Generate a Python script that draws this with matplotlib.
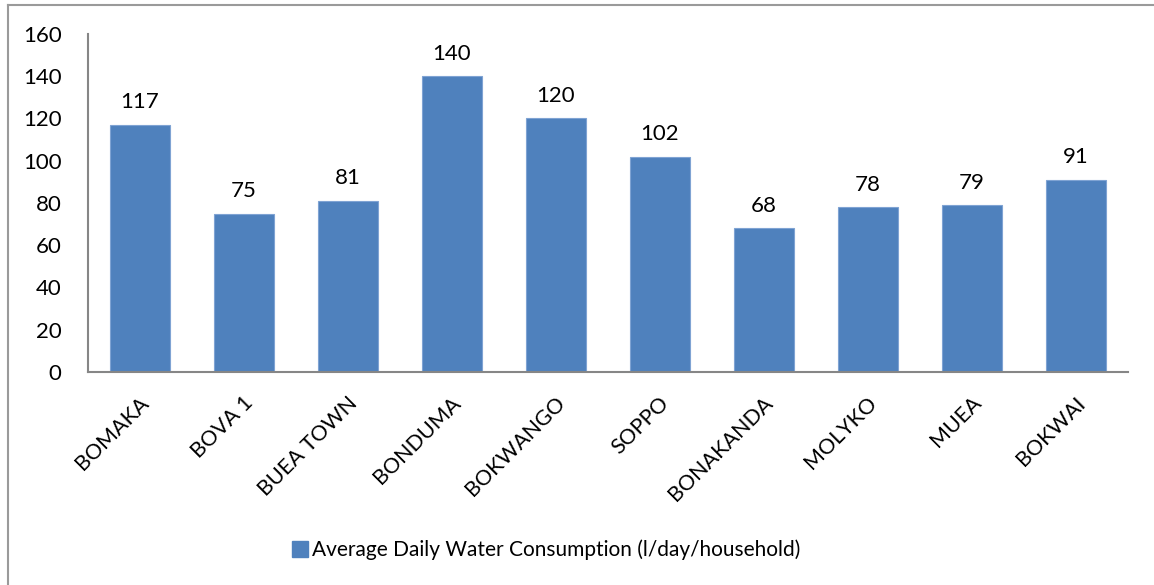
import matplotlib
matplotlib.use("Agg")
import matplotlib.pyplot as plt
import matplotlib.transforms as mtransforms
from matplotlib.lines import Line2D

localites = ["BOMAKA", "BOVA 1", "BUEA TOWN", "BONDUMA", "BOKWANGO",
             "SOPPO", "BONAKANDA", "MOLYKO", "MUEA", "BOKWAI"]
consommation = [117, 75, 81, 140, 120, 102, 68, 78, 79, 91]
yticks = [0, 20, 40, 60, 80, 100, 120, 140, 160]
legende = "Average Daily Water Consumption (l/day/household)"

plt.rcParams["font.family"] = ["Lato", "DejaVu Sans"]
bleu = "#4F81BD"
gris = "#868686"

fig = plt.figure(figsize=(11.54, 5.85), dpi=100)
ax = fig.add_axes([88 / 1154, 1 - 372 / 585, 1040 / 1154, 338 / 585])

x = range(len(localites))
bars = ax.bar(x, consommation, width=0.57, color=bleu, edgecolor="#7FA3D3",
              linewidth=0.8, label=legende)
for xi, v in zip(x, consommation):
    ax.annotate(str(v), (xi, v), xytext=(0, 9), textcoords="offset points",
                ha="center", va="bottom", fontsize=16)

ax.set_xlim(-0.5, len(localites) - 0.5)
ax.set_ylim(0, 160)
ax.set_yticks(yticks)
ax.tick_params(axis="y", length=0, labelsize=16, pad=19)
ax.set_xticks(list(x))
ax.set_xticklabels(localites, rotation=45, ha="right", va="center",
                   rotation_mode="anchor", fontsize=15.5)
ax.tick_params(axis="x", length=0, pad=20)
decale = mtransforms.ScaledTranslation(6 / 100, 0, fig.dpi_scale_trans)
for lab in ax.get_xticklabels():
    lab.set_transform(lab.get_transform() + decale)
for s in ("top", "right"):
    ax.spines[s].set_visible(False)
for s in ("left", "bottom"):
    ax.spines[s].set_color(gris)
    ax.spines[s].set_linewidth(1.5)

handle = Line2D([], [], marker="s", linestyle="none", markersize=12,
                markerfacecolor=bleu, markeredgecolor=bleu)
fig.legend([handle], [legende], loc="center", bbox_to_anchor=(545 / 1154, 1 - 550 / 585),
           frameon=False, fontsize=15, handletextpad=0.1, handlelength=1.0)

# cadre (bords gauche et haut visibles)
fig.add_artist(Line2D([8 / 1154, 8 / 1154], [0, 1 - 5 / 585], color="#9a9a9a",
                      linewidth=1.5, transform=fig.transFigure))
fig.add_artist(Line2D([8 / 1154, 1], [1 - 5 / 585, 1 - 5 / 585], color="#9a9a9a",
                      linewidth=1.5, transform=fig.transFigure))

fig.savefig("out.png", dpi=100, facecolor="white")
